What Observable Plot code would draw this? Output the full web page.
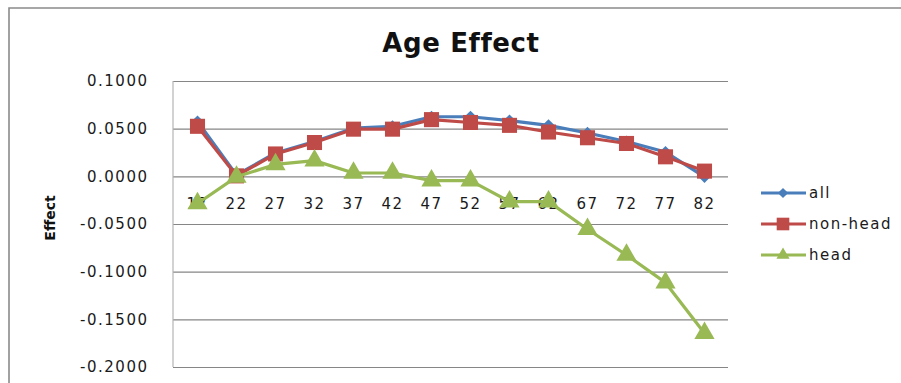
<!DOCTYPE html>
<html>
<head>
<meta charset="utf-8">
<script src="https://cdn.jsdelivr.net/npm/d3@7"></script>
<script src="https://cdn.jsdelivr.net/npm/@observablehq/plot@0.6"></script>
<style>
  html, body { margin: 0; padding: 0; background: #fff; }
  #chart { position: relative; width: 901px; height: 383px; overflow: hidden; }
  #chart svg text { font-family: "DejaVu Sans", sans-serif; letter-spacing: 1.5px; }
</style>
</head>
<body>
<div id="chart"></div>
<script>
// Age groups (lower bound of each five-year band)
const ages = [17, 22, 27, 32, 37, 42, 47, 52, 57, 62, 67, 72, 77, 82];

// Estimated age effect per group
const allEffect     = [0.058, 0.002, 0.025, 0.037, 0.051, 0.053, 0.063, 0.063, 0.059, 0.054, 0.046, 0.037, 0.026, 0.000];
const nonHeadEffect = [0.053, 0.001, 0.024, 0.036, 0.050, 0.050, 0.060, 0.057, 0.054, 0.047, 0.041, 0.035, 0.021, 0.006];
const headEffect    = [-0.028, 0.000, 0.013, 0.017, 0.004, 0.004, -0.004, -0.004, -0.026, -0.026, -0.055, -0.082, -0.111, -0.164];

const seriesNames  = ["all", "non-head", "head"];
const seriesColors = ["#4a7ebb", "#be4b48", "#98b954"];
const seriesSymbols = ["diamond2", "square", "triangle"];
const seriesRadius = [5.5, 8.5, 7.5];

const yTicks = [0.1, 0.05, 0, -0.05, -0.1, -0.15, -0.2];

const seriesValues = [allEffect, nonHeadEffect, headEffect];
const rows = seriesValues.map((vals, s) =>
  ages.map((age, i) => ({age, effect: vals[i], series: seriesNames[s]}))
);

const fmt = d => d.toFixed(4);

const marks = [
  Plot.gridY(yTicks, {stroke: "#868686", strokeOpacity: 1, strokeWidth: 1.2}),
  Plot.axisY(yTicks, {tickSize: 0, tickPadding: 25, tickFormat: fmt, label: null, fontSize: 15, fill: "#1a1a1a"}),
  Plot.text(ages, {x: d => d, y: () => 0, dy: 27, text: d => String(d), fontSize: 15, fill: "#1a1a1a"})
];

rows.forEach((data, s) => {
  marks.push(Plot.line(data, {x: "age", y: "effect", stroke: seriesColors[s], strokeWidth: 3.2}));
  marks.push(Plot.dot(data, {x: "age", y: "effect", symbol: () => seriesSymbols[s], fill: seriesColors[s], r: seriesRadius[s], stroke: "none"}));
});

const chart = Plot.plot({
  width: 901,
  height: 383,
  marginLeft: 173,
  marginRight: 173,
  marginTop: 81,
  marginBottom: 16,
  style: {background: "#fff", fontFamily: "DejaVu Sans, sans-serif"},
  x: {type: "point", domain: ages, padding: 0.5, axis: null},
  y: {domain: [-0.2, 0.1], axis: null},
  marks
});

const svg = d3.select(chart);

// vertical value axis line
svg.append("line")
  .attr("x1", 173).attr("x2", 173).attr("y1", 81).attr("y2", 367)
  .attr("stroke", "#b4b4b4").attr("stroke-width", 1.2);

// outer chart-area border (top and left edges)
svg.append("path")
  .attr("d", "M9,383 L9,8 L901,8")
  .attr("fill", "none").attr("stroke", "#8a8a8a").attr("stroke-width", 1.6);

// title
svg.append("text")
  .attr("x", 461).attr("y", 52)
  .attr("text-anchor", "middle")
  .attr("font-weight", "bold").attr("font-size", 26)
  .attr("fill", "#111")
  .style("letter-spacing", "0.6px")
  .text("Age Effect");

// y-axis title
svg.append("text")
  .attr("transform", "translate(55,218) rotate(-90)")
  .attr("text-anchor", "middle")
  .attr("font-weight", "bold").attr("font-size", 14)
  .attr("fill", "#111")
  .style("letter-spacing", "0px")
  .text("Effect");

// legend
const legend = svg.append("g");
seriesNames.forEach((name, s) => {
  const y = 193 + s * 31;
  legend.append("line")
    .attr("x1", 761).attr("x2", 806).attr("y1", y).attr("y2", y)
    .attr("stroke", seriesColors[s]).attr("stroke-width", 3);
  const sym = {diamond2: d3.symbolDiamond2, square: d3.symbolSquare, triangle: d3.symbolTriangle2}[seriesSymbols[s]];
  legend.append("path")
    .attr("transform", `translate(783,${y})`)
    .attr("d", d3.symbol(sym, Math.PI * seriesRadius[s] * seriesRadius[s] * 0.7)())
    .attr("fill", seriesColors[s]);
  legend.append("text")
    .attr("x", 809).attr("y", y).attr("dy", "0.35em")
    .attr("text-anchor", "start")
    .attr("font-size", 15)
    .attr("fill", "#1a1a1a")
    .text(name);
});

document.getElementById("chart").appendChild(chart);
</script>
</body>
</html>
